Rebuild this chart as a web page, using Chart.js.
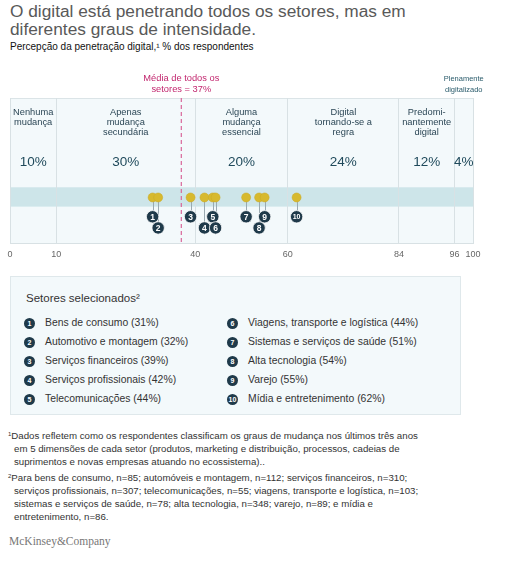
<!DOCTYPE html>
<html>
<head>
<meta charset="utf-8">
<script src="https://cdn.jsdelivr.net/npm/chart.js@4"></script>
<style>
  body { margin: 0; background: #fff; font-family: "Liberation Sans", Arial, sans-serif; }
  .page { position: relative; width: 509px; height: 568px; overflow: hidden; }
  .title { position: absolute; left: 10px; top: 2px; font-size: 17.3px; line-height: 18px; color: #595959; }
  .subtitle { position: absolute; left: 10px; top: 41px; font-size: 10px; color: #111; }
  .chartWrap { position: absolute; left: 0; top: 58px; width: 509px; height: 212px; }
  .legendBox { position: absolute; left: 10px; top: 276px; width: 451px; height: 139px; background: #f3f9fb; border: 1px solid #dfe8eb; box-sizing: border-box; }
  .legendTitle { position: absolute; left: 15px; top: 15px; font-size: 11.5px; color: #333; }
  .legendItem { position: absolute; font-size: 10.4px; color: #333; white-space: nowrap; }
  .legendItem .num { position: absolute; left: 0; top: 0.5px; width: 11px; height: 11px; border-radius: 50%; background: #1f3a4a; color: #fff; font-size: 7px; font-weight: bold; line-height: 11px; text-align: center; }
  .legendItem .txt { position: absolute; left: 21px; top: 0; }
  .notes { position: absolute; left: 8px; top: 428px; font-size: 9.7px; line-height: 13px; color: #333; }
  .notes p { margin: 0 0 2px 0; padding-left: 6px; text-indent: -6px; }
  .notes sup { font-size: 6px; vertical-align: 3px; }
  .logo { position: absolute; left: 9px; top: 535px; font-family: "Liberation Serif", "DejaVu Serif", serif; font-size: 11.5px; color: #777; }
</style>
</head>
<body>
<div class="page">
  <div class="title">O digital está penetrando todos os setores, mas em<br>diferentes graus de intensidade.</div>
  <div class="subtitle">Percepção da penetração digital,¹ % dos respondentes</div>
  <div class="chartWrap"><canvas id="penetracaoChart"></canvas></div>

  <div class="legendBox" id="legendBox">
    <div class="legendTitle">Setores selecionados²</div>
  </div>

  <div class="notes">
    <p><sup>1</sup>Dados refletem como os respondentes classificam os graus de mudança nos últimos três anos<br>em 5 dimensões de cada setor (produtos, marketing e distribuição, processos, cadeias de<br>suprimentos e novas empresas atuando no ecossistema)..</p>
    <p><sup>2</sup>Para bens de consumo, n=85; automóveis e montagem, n=112; serviços financeiros, n=310;<br>serviços profissionais, n=307; telecomunicações, n=55; viagens, transporte e logística, n=103;<br>sistemas e serviços de saúde, n=78; alta tecnologia, n=348; varejo, n=89; e mídia e<br>entretenimento, n=86.</p>
  </div>
  <div class="logo">McKinsey&amp;Company</div>
</div>

<script>
// faixas de penetração digital
const bandEdges = [0, 10, 40, 60, 84, 96, 100];
const bandLabels = [
  ['Nenhuma', 'mudança'],
  ['Apenas', 'mudança', 'secundária'],
  ['Alguma', 'mudança', 'essencial'],
  ['Digital', 'tornando-se a', 'regra'],
  ['Predomi-', 'nantemente', 'digital'],
  ['Plenamente', 'digitalizado']
];
const bandShares = [10, 30, 20, 24, 12, 4];

// setores
const sectorNames = [
  'Bens de consumo', 'Automotivo e montagem', 'Serviços financeiros', 'Serviços profissionais',
  'Telecomunicações', 'Viagens, transporte e logística', 'Sistemas e serviços de saúde',
  'Alta tecnologia', 'Varejo', 'Mídia e entretenimento'
];
const sectorValues = [30.8, 32, 39, 42, 43.8, 44.4, 51, 53.8, 55, 61.9];
const sectorPct = [31, 32, 39, 42, 44, 44, 51, 54, 55, 62];
const labelRow = [1, 2, 1, 2, 1, 2, 1, 2, 1, 1];

const mediaGeral = 37;

// posições verticais (escala y oculta 0-100)
const Y_DOT = 31.5;
const Y_ROW = { 1: 18.2, 2: 10.5 };
const STRIPE = [25.2, 38.5];

// legenda em HTML
const legendBox = document.getElementById('legendBox');
sectorNames.forEach((name, i) => {
  const col = i < 5 ? 0 : 1;
  const row = i % 5;
  const el = document.createElement('div');
  el.className = 'legendItem';
  el.style.left = (col === 0 ? 13 : 216) + 'px';
  el.style.top = (40 + row * 19) + 'px';
  el.innerHTML = `<span class="num">${i + 1}</span><span class="txt">${name} (${sectorPct[i]}%)</span>`;
  legendBox.appendChild(el);
});

const fundoPlugin = {
  id: 'fundo',
  beforeDraw(chart) {
    const { ctx, chartArea: a, scales: { y } } = chart;
    ctx.save();
    ctx.fillStyle = '#f3f9fb';
    ctx.fillRect(a.left, a.top, a.right - a.left, a.bottom - a.top);
    ctx.fillStyle = '#cde5e9';
    const y1 = y.getPixelForValue(STRIPE[1]), y0 = y.getPixelForValue(STRIPE[0]);
    ctx.fillRect(a.left, y1, a.right - a.left, y0 - y1);
    ctx.strokeStyle = '#dbe4e7';
    ctx.lineWidth = 1;
    ctx.beginPath();
    ctx.moveTo(a.left, a.top + 0.5);
    ctx.lineTo(a.right, a.top + 0.5);
    ctx.stroke();
    ctx.restore();
  },
  beforeDatasetsDraw(chart) {
    const { ctx, chartArea: a, scales: { x, y } } = chart;
    ctx.save();
    // cabeçalhos das faixas
    ctx.textAlign = 'center';
    ctx.textBaseline = 'middle';
    bandShares.forEach((share, i) => {
      const cx = x.getPixelForValue((bandEdges[i] + bandEdges[i + 1]) / 2);
      const last = i === bandShares.length - 1;
      ctx.fillStyle = last ? '#2b5c6c' : '#2c4756';
      ctx.font = last ? '7.5px "Liberation Sans", Arial' : '9.3px "Liberation Sans", Arial';
      bandLabels[i].forEach((line, k) => {
        const ty = last ? a.top - 19 + k * 11 : a.top + 14 + k * 10;
        ctx.fillText(line, cx, ty);
      });
      ctx.fillStyle = '#1f4a5b';
      ctx.font = '13.5px "Liberation Sans", Arial';
      ctx.fillText(share + '%', cx, a.top + 64);
    });

    // linha da média
    const mx = x.getPixelForValue(mediaGeral);
    ctx.strokeStyle = '#d9679a';
    ctx.lineWidth = 1.2;
    ctx.setLineDash([4, 3]);
    ctx.beginPath();
    ctx.moveTo(mx, a.top);
    ctx.lineTo(mx, a.bottom);
    ctx.stroke();
    ctx.setLineDash([]);
    ctx.fillStyle = '#c2266e';
    ctx.font = '9.3px "Liberation Sans", Arial';
    ctx.fillText('Média de todos os', mx, a.top - 20);
    ctx.fillText('setores = ' + mediaGeral + '%', mx, a.top - 9);

    // hastes
    ctx.strokeStyle = '#9aa9b0';
    ctx.lineWidth = 1;
    sectorValues.forEach((v, i) => {
      const px = Math.round(x.getPixelForValue(v)) + 0.5;
      ctx.beginPath();
      ctx.moveTo(px, y.getPixelForValue(Y_DOT));
      ctx.lineTo(px, y.getPixelForValue(Y_ROW[labelRow[i]]));
      ctx.stroke();
    });
    ctx.restore();
  },
  afterDatasetsDraw(chart) {
    const { ctx, scales: { x, y } } = chart;
    ctx.save();
    ctx.fillStyle = '#fff';
    ctx.textAlign = 'center';
    ctx.textBaseline = 'middle';
    sectorValues.forEach((v, i) => {
      ctx.font = 'bold ' + (i === 9 ? '7px' : '8.5px') + ' "Liberation Sans", Arial';
      ctx.fillText(String(i + 1), x.getPixelForValue(v), y.getPixelForValue(Y_ROW[labelRow[i]]) + 0.5);
    });
    ctx.restore();
  }
};

new Chart(document.getElementById('penetracaoChart'), {
  type: 'scatter',
  data: {
    datasets: [
      {
        data: sectorValues.map(v => ({ x: v, y: Y_DOT })),
        backgroundColor: '#d7b92e',
        borderColor: '#c9a825',
        borderWidth: 0.5,
        pointRadius: 4.5
      },
      {
        data: sectorValues.map((v, i) => ({ x: v, y: Y_ROW[labelRow[i]] })),
        backgroundColor: '#1f3a4a',
        borderColor: '#ffffff',
        borderWidth: 0.8,
        pointRadius: 6.2
      }
    ]
  },
  options: {
    responsive: true,
    maintainAspectRatio: false,
    animation: false,
    layout: { padding: { left: 10, right: 36, top: 40, bottom: 4 } },
    plugins: { legend: { display: false }, tooltip: { enabled: false } },
    scales: {
      x: {
        type: 'linear',
        min: 0,
        max: 100,
        afterBuildTicks: axis => { axis.ticks = bandEdges.map(v => ({ value: v })); },
        grid: { color: '#d8e1e4', drawTicks: false },
        border: { color: '#d8e1e4' },
        ticks: { color: '#666', font: { size: 9, family: '"Liberation Sans", Arial' }, padding: 6, autoSkip: false, maxRotation: 0 }
      },
      y: { display: false, min: 0, max: 100 }
    }
  },
  plugins: [fundoPlugin]
});
</script>
</body>
</html>
